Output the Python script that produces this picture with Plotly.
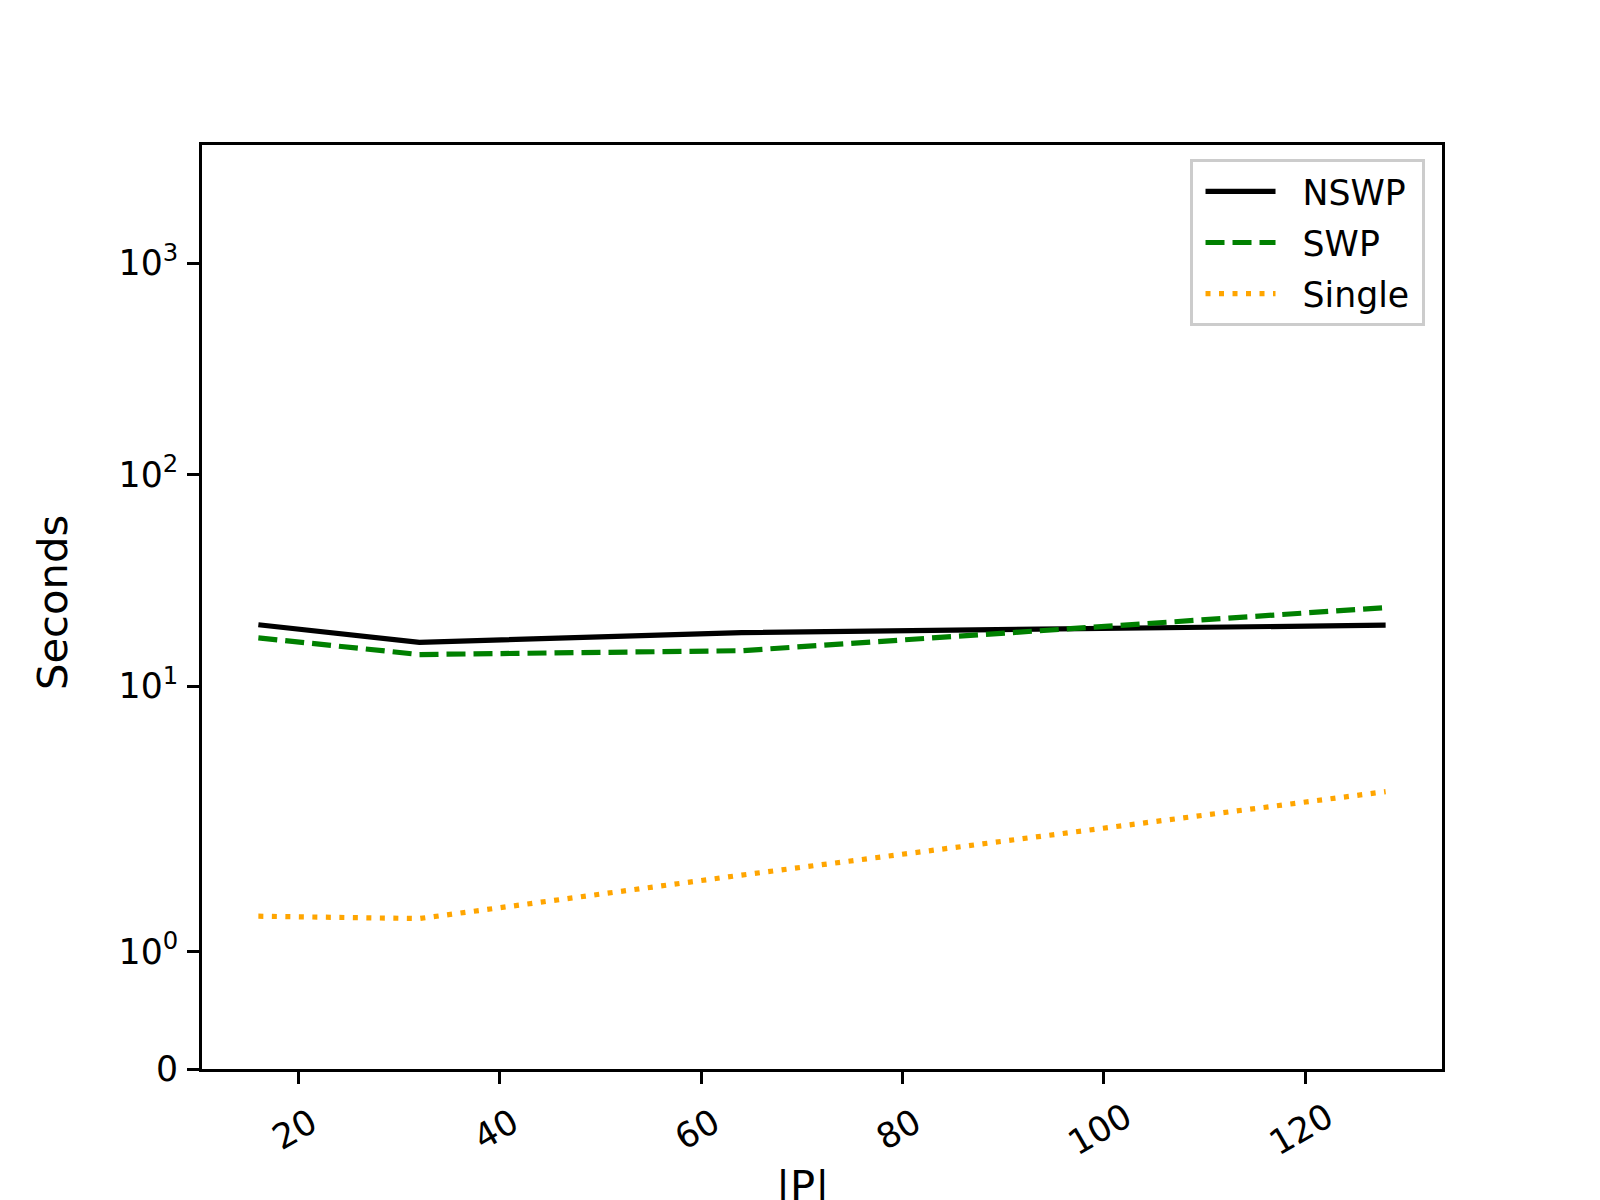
import numpy as np
import plotly.graph_objects as go

# ---- data ----
sizes = [16, 32, 64, 128]
nswp = [19.5, 16.1, 17.9, 19.4]
swp = [16.9, 14.1, 14.7, 23.5]
single = [1.30, 1.28, 1.65, 3.17]

series_names = ["NSWP", "SWP", "Single"]
y_tick_values = [0, 1, 10, 100, 1000]
y_tick_labels = ["0", "10<sup>0</sup>", "10<sup>1</sup>", "10<sup>2</sup>", "10<sup>3</sup>"]
x_tick_values = [20, 40, 60, 80, 100, 120]
x_tick_labels = ["20\u00a0", "40\u00a0", "60\u00a0", "80\u00a0", "100", "120"]

# ---- symlog transform (linthresh=2, linscale=1, base 10), as matplotlib ----
LINTHRESH = 2.0
LINSCALE_ADJ = 1.0 / (1.0 - 1.0 / 10.0)


def symlog(v):
    v = np.asarray(v, dtype=float)
    a = np.abs(v)
    out = np.where(
        a <= LINTHRESH,
        v * LINSCALE_ADJ,
        np.sign(v) * LINTHRESH * (LINSCALE_ADJ + np.log10(np.maximum(a, 1e-12) / LINTHRESH)),
    )
    return out


FONT = "DejaVu Sans"
FS = 34.7
FS_LABEL = 41.7
PAD = "\u00a0\u00a0"
TAIL = "\u2009"

fig = go.Figure()
fig.add_trace(go.Scatter(x=sizes, y=symlog(nswp), mode="lines", name=PAD + series_names[0] + TAIL,
                         legendgroup="a", line=dict(color="black", width=5.2)))
fig.add_trace(go.Scatter(x=sizes, y=symlog(swp), mode="lines", name=PAD + series_names[1] + TAIL,
                         legendgroup="b", line=dict(color="#008000", width=5.2, dash="19px,8px")))
fig.add_trace(go.Scatter(x=sizes, y=symlog(single), mode="lines", name=PAD + series_names[2] + TAIL,
                         legendgroup="c", line=dict(color="#FFA500", width=5.2, dash="5px,8.5px")))

y_top = float(symlog([1000])[0]) + 1.1158

fig.update_layout(
    width=1600, height=1200,
    margin=dict(l=194, r=166, t=137, b=139, pad=0),
    paper_bgcolor="white", plot_bgcolor="white",
    font=dict(family=FONT, size=FS, color="black"),
    showlegend=True,
    legend=dict(x=0.9859, y=0.9845, xanchor="right", yanchor="top",
                bgcolor="white", bordercolor="#cccccc", borderwidth=3,
                itemwidth=70, indentation=8, tracegroupgap=3,
                font=dict(family=FONT, size=FS, color="black")),
    xaxis=dict(range=[10.4, 133.6], tickvals=x_tick_values, ticktext=x_tick_labels, tickangle=-30,
               showline=True, linecolor="black", linewidth=2.8, mirror=True,
               ticks="outside", ticklen=12, tickwidth=2.8, tickcolor="black",
               showgrid=False, zeroline=False, ticklabelstandoff=0, ticklabelshift=22,
               tickfont=dict(family=FONT, size=FS)),
    yaxis=dict(range=[0, y_top], tickvals=list(symlog(y_tick_values)), ticktext=y_tick_labels,
               showline=True, linecolor="black", linewidth=2.8, mirror=True,
               ticks="outside", ticklen=12, tickwidth=2.8, tickcolor="black",
               showgrid=False, zeroline=False, ticklabelstandoff=2,
               tickfont=dict(family=FONT, size=FS)),
    annotations=[
        dict(text="|P|", xref="paper", yref="paper", x=(800 - 200) / 1240, y=(1068 - 1184) / 924,
             xanchor="center", yanchor="middle", showarrow=False,
             font=dict(family=FONT, size=FS_LABEL)),
        dict(text="Seconds", xref="paper", yref="paper", x=(50 - 200) / 1240, y=0.5043,
             xanchor="center", yanchor="middle", showarrow=False, textangle=-90,
             font=dict(family=FONT, size=FS_LABEL)),
    ],
)

fig.write_html("out.html")
